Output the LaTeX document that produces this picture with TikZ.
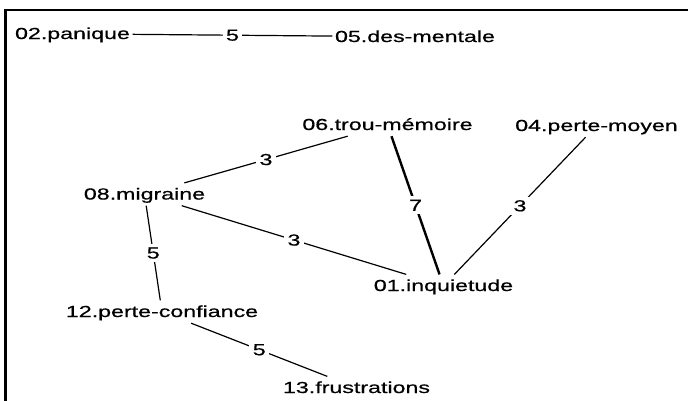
\documentclass[tikz,border=0pt]{standalone}
\usepackage{fontspec}
\setmainfont{Liberation Sans}[FakeStretch=1.45,FakeBold=0.6]
\begin{document}
\begin{tikzpicture}[x=1pt,y=-1pt,
  term/.style={font=\fontsize{16}{18}\selectfont, inner xsep=2.5pt, inner ysep=2pt,
               text height=14.4pt, text depth=4pt, anchor=base},
  link/.style={line width=1.2pt},
  heavy/.style={line width=2.4pt},
  wt/.style={font=\fontsize{16}{18}\selectfont, fill=white, inner sep=3.5pt, midway}]
\useasboundingbox (0,0) rectangle (688,400);
\fill[white] (0,0) rectangle (688,400);
% frame
\draw[line width=2.2pt] (5.5,410) -- (5.5,10) -- (700,10);

% terms
\node[term] (n02) at (72.5,39)   {02.panique};
\node[term] (n05) at (415,42)    {05.des-mentale};
\node[term] (n06) at (387.5,130) {06.trou-mémoire};
\node[term] (n04) at (596.5,131) {04.perte-moyen};
\node[term] (n08) at (144.5,199.5) {08.migraine};
\node[term] (n01) at (443.5,291) {01.inquietude};
\node[term] (n12) at (162,317)   {12.perte-confiance};
\node[term] (n13) at (356.5,393) {13.frustrations};

% weighted links
\draw[link]  (n02) -- node[wt]{5} (n05);
\draw[link]  (n08) -- node[wt]{3} (n06);
\draw[heavy] (n06) -- node[wt]{7} (n01);
\draw[link]  (n04) -- node[wt]{3} (n01);
\draw[link]  (n08) -- node[wt]{3} (n01);
\draw[link]  (n08) -- node[wt]{5} (n12);
\draw[link]  (n12) -- node[wt]{5} (n13);
\end{tikzpicture}
\end{document}
